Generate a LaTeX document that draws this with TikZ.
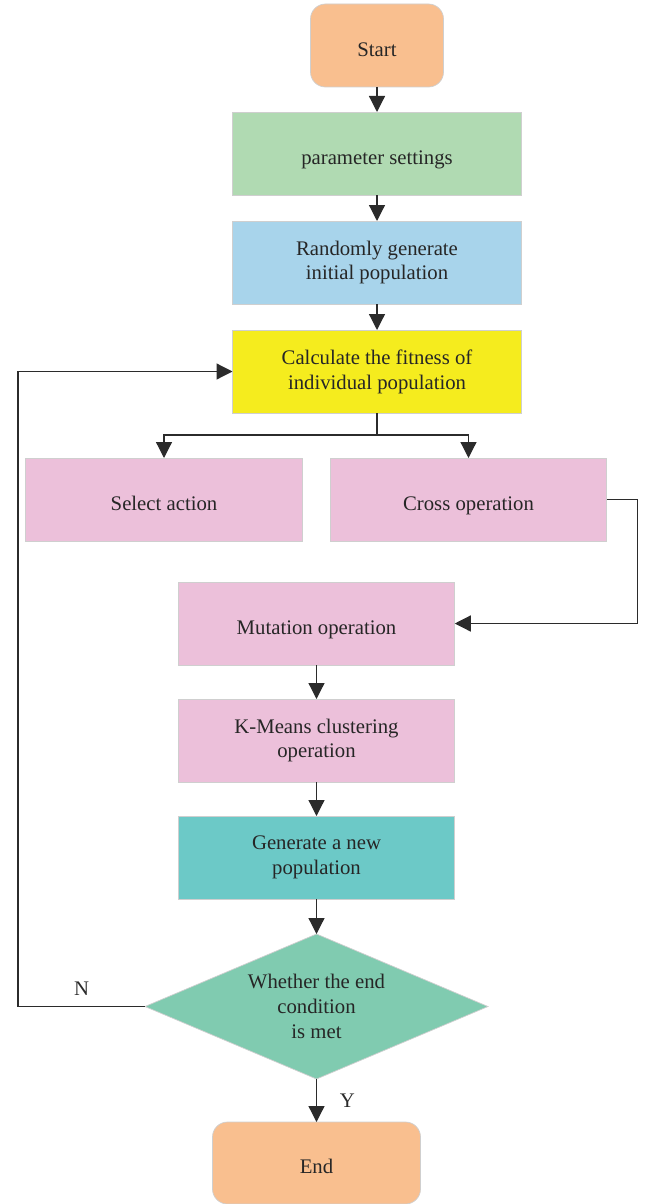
\documentclass[tikz,border=0pt]{standalone}
\usepackage{fontspec}
\setmainfont{Liberation Serif}
\usepackage{xcolor}
\definecolor{gaorange}{HTML}{F9BF8F}
\definecolor{gagreen}{HTML}{B0DAB2}
\definecolor{gablue}{HTML}{A8D4EB}
\definecolor{gayellow}{HTML}{F5EC1E}
\definecolor{gapink}{HTML}{ECC0DA}
\definecolor{gateal}{HTML}{6CC9C7}
\definecolor{gamint}{HTML}{80CBB0}
\definecolor{gaedge}{HTML}{CFCFCF}
\definecolor{galine}{HTML}{2B2B2B}
\usetikzlibrary{arrows.meta,positioning,shapes.geometric}

\begin{document}
\begin{tikzpicture}[font=\fontsize{11.8}{14.2}\selectfont,node distance=5mm,
  blk/.style={draw=gaedge,thin,align=center,minimum width=5.78cm,minimum height=1.66cm,
    text=black!85,inner sep=2pt,outer sep=0pt},
  oneline/.style={text height=12pt,text depth=0pt},
  term/.style={blk,oneline,rounded corners=3mm,fill=gaorange},
  pbox/.style={blk,fill=gapink,minimum width=5.53cm},
  arr/.style={-{Triangle[length=3.2mm,width=3.2mm]},galine,line width=0.7pt},
  ln/.style={galine,line width=0.7pt}]
\useasboundingbox (0,0) rectangle (12.92,-24.08);
% start and set-up
\node[term,minimum width=2.66cm] (start) at (7.54,-0.91) {Start};
\node[blk,oneline,fill=gagreen,below=of start] (param) {parameter settings};
\node[blk,fill=gablue,below=5.2mm of param] (init) {Randomly generate\\initial population};
\node[blk,fill=gayellow,below=5.2mm of init] (calc) {Calculate the fitness of\\individual population};
% genetic operators
\node[pbox,oneline,below=9mm of calc,xshift=-4.26cm] (sel) {Select action};
\node[pbox,oneline,below=9mm of calc,xshift=1.83cm] (cross) {Cross operation};
\node[pbox,oneline,below=8.2mm of cross,xshift=-3.04cm] (mut) {Mutation operation};
\node[pbox,below=6.8mm of mut] (kmeans) {K-Means clustering\\operation};
\node[pbox,fill=gateal,below=6.8mm of kmeans] (newpop) {Generate a new\\population};
% end test
\node[diamond,draw=gaedge,thin,fill=gamint,align=center,text=black!85,aspect=2.4,
  minimum width=6.86cm,minimum height=2.9cm,inner sep=0pt,outer sep=0pt,
  below=7mm of newpop] (test) {Whether the end\\condition\\is met};
\node[term,minimum width=4.16cm,minimum height=1.64cm,below=8.6mm of test] (stop) {End};
% connectors
\draw[arr] (start) -- (param);
\draw[arr] (param) -- (init);
\draw[arr] (init) -- (calc);
\draw[ln] (calc.south) -- ++(0,-0.44) coordinate (split);
\draw[arr] (split) -| (sel.north);
\draw[arr] (split) -| (cross.north);
\draw[arr] (cross.east) -- ++(0.62,0) |- (mut.east);
\draw[arr] (mut) -- (kmeans);
\draw[arr] (kmeans) -- (newpop);
\draw[arr] (newpop) -- (test);
\draw[arr] (test) -- node[right=3.4mm,pos=0.5] {Y} (stop);
\draw[arr] (test.west) -- node[above=1mm,pos=0.5] {N} ++(-2.54,0) |- (calc.west);
\end{tikzpicture}
\end{document}
